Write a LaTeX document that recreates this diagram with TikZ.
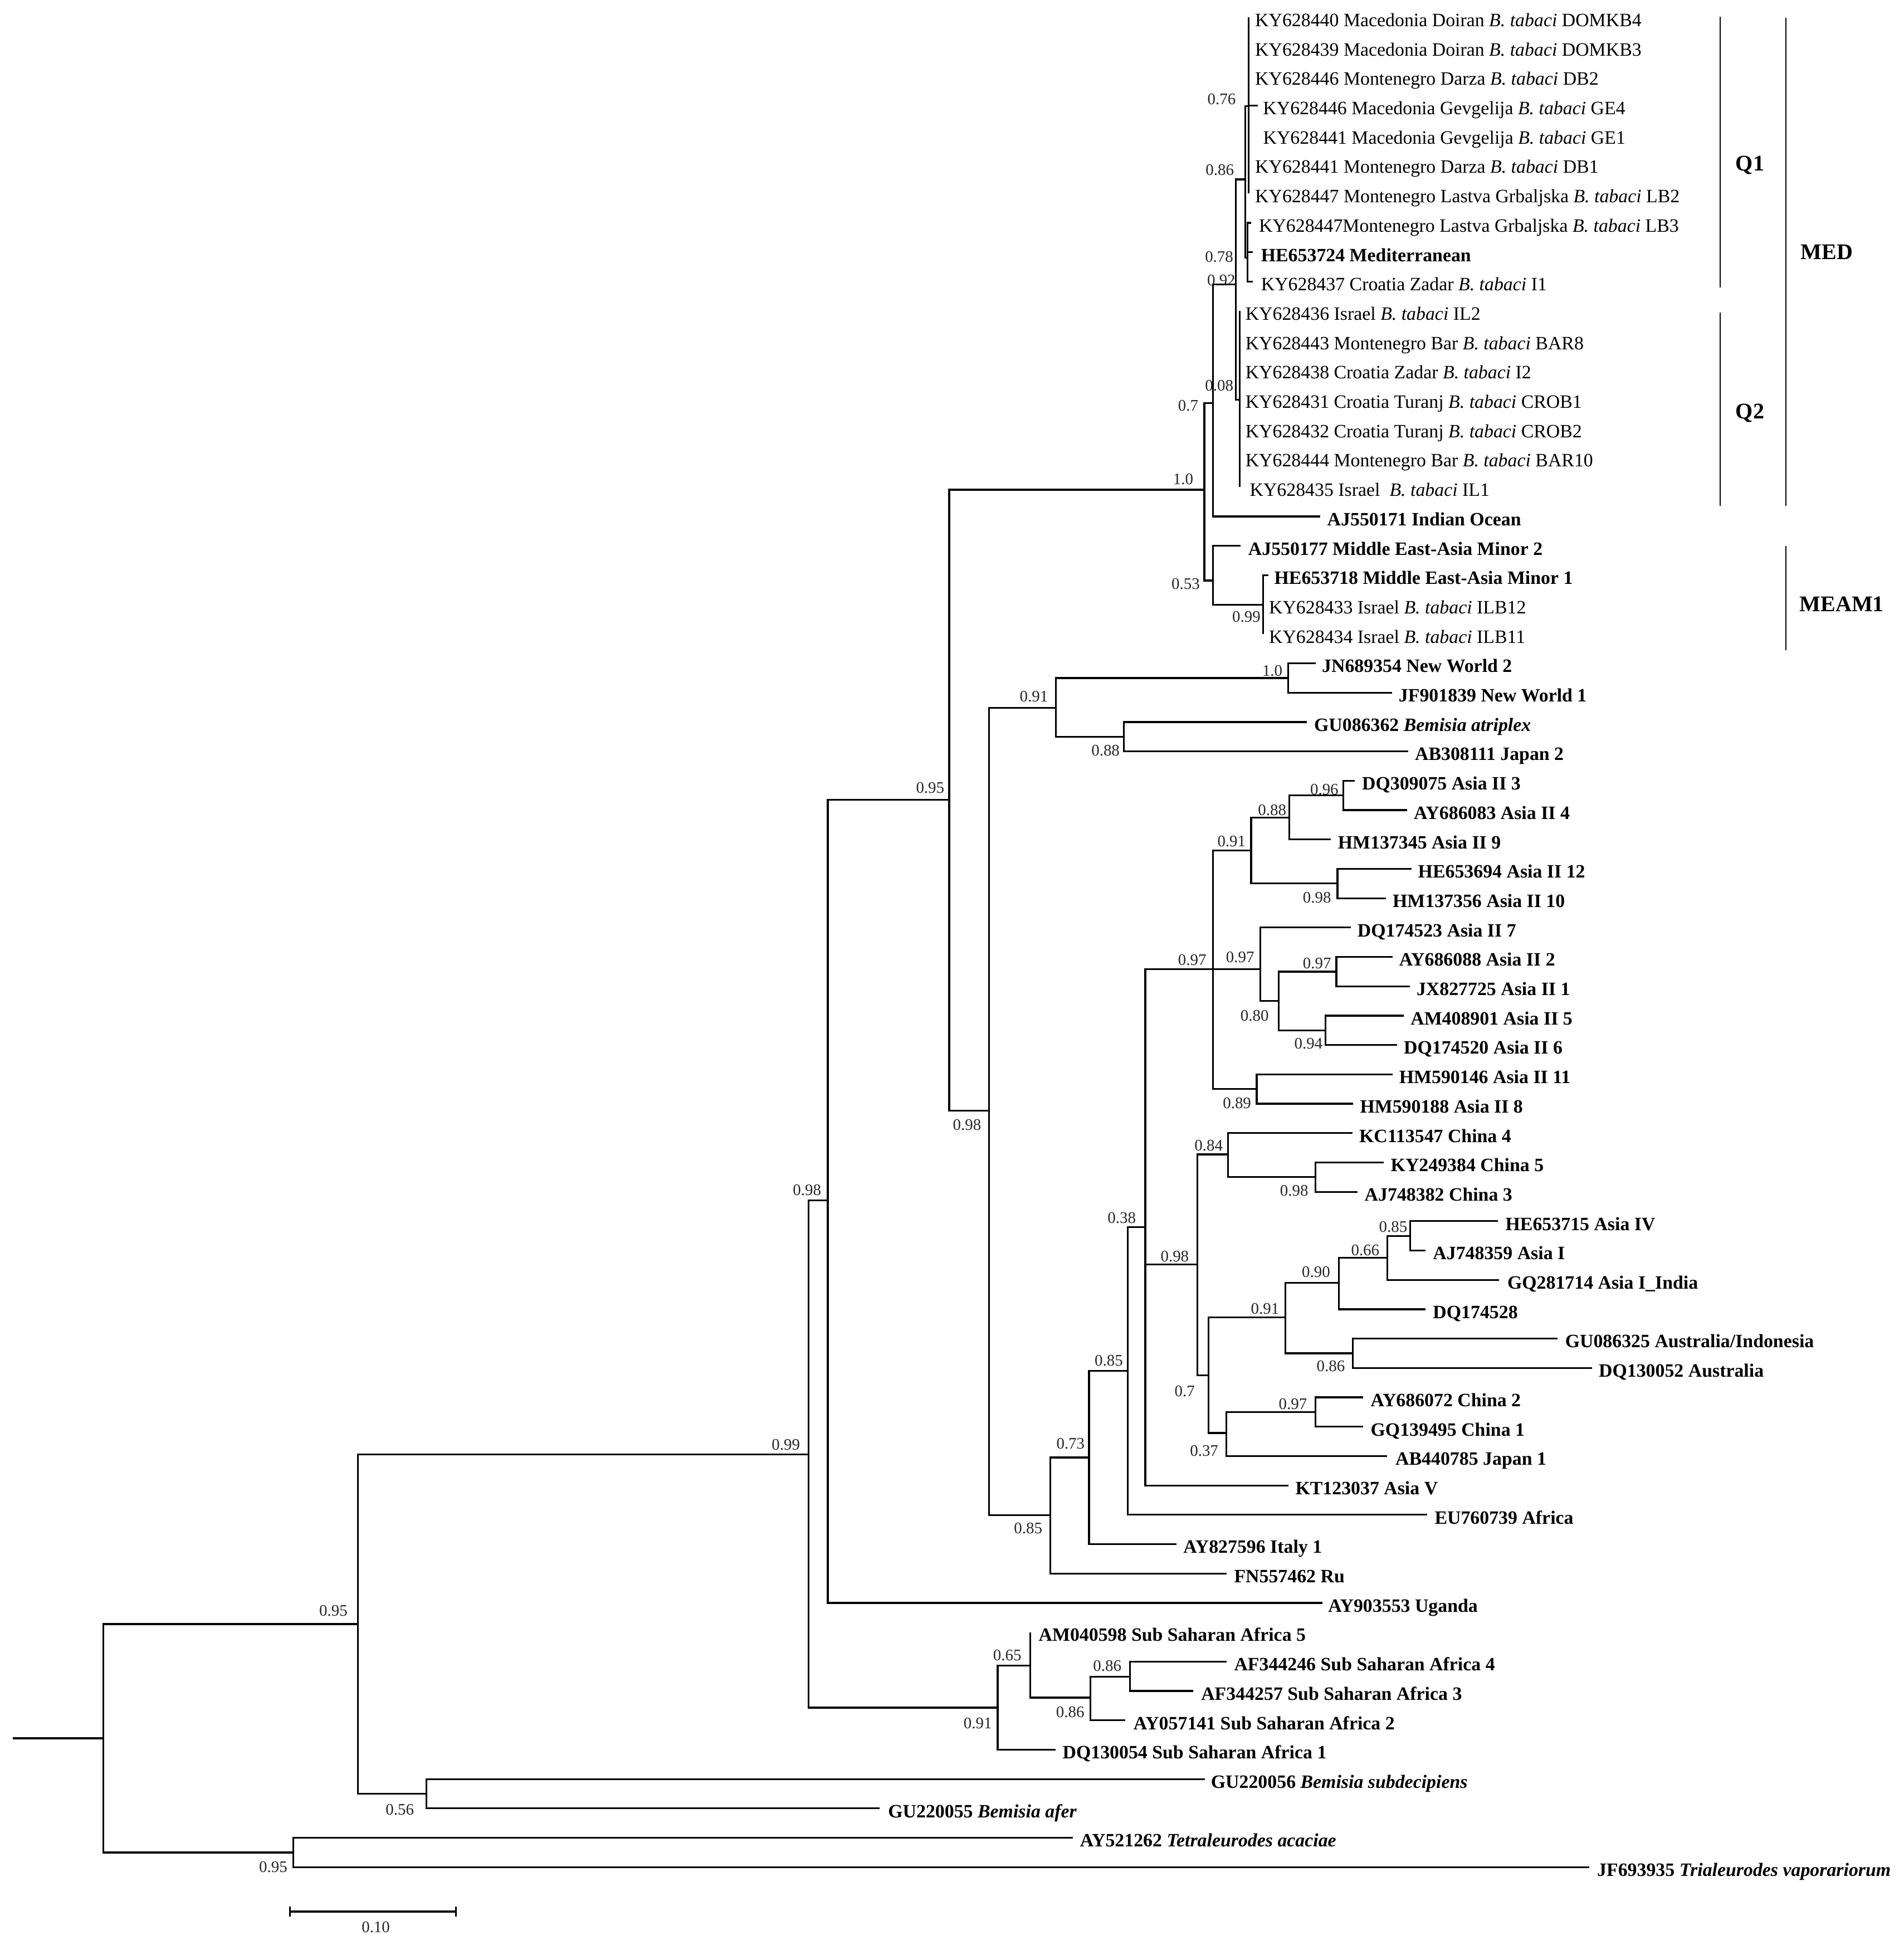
\documentclass[tikz,border=0pt]{standalone}
\usepackage{fontspec}
\setmainfont{Liberation Serif}
\begin{document}
\begin{tikzpicture}[x=1pt,y=-1pt,
  br/.style={line width=1.45pt, line join=miter},
  bk/.style={line width=1pt},
  tl/.style={anchor=base west, inner sep=0pt, font=\fontsize{15.2}{18}\selectfont},
  tlb/.style={tl, font=\fontsize{15.2}{18}\selectfont\bfseries},
  bl/.style={inner sep=0pt, font=\fontsize{13}{15}\selectfont, text=black!85},
  grp/.style={inner sep=0pt, font=\fontsize{18}{21}\selectfont\bfseries}]
\fill[white] (0,0) rectangle (1535,1568);
\useasboundingbox (0,0) rectangle (1535,1568);
% ---------- internal nodes ----------
\coordinate (rs) at (10.3,1401.3);
\coordinate (root) at (83.4,1401.3);
\coordinate (nOut) at (236.5,1493.4);
\coordinate (nA) at (288.7,1309.3);
\coordinate (nBem) at (343.7,1445.9);
\coordinate (nB) at (651.8,1172.4);
\coordinate (nSSA) at (804.4,1376.6);
\coordinate (nSSA2) at (830.8,1342.9);
\coordinate (nSSA3) at (879.2,1368.6);
\coordinate (nSSA4) at (911,1351.7);
\coordinate (nC) at (667.4,967.6);
\coordinate (nD) at (765.3,644.7);
\coordinate (nE) at (797.4,895.4);
\coordinate (nNW) at (851.5,570.8);
\coordinate (nNW2) at (1038.5,546.6);
\coordinate (nJ) at (906.3,594);
\coordinate (nF) at (846.7,1221.5);
\coordinate (nG) at (878.1,1175);
\coordinate (nH) at (909.3,1105.3);
\coordinate (nI) at (923.5,989.3);
\coordinate (nAII) at (978.1,781.3);
\coordinate (nK) at (1008.8,685.6);
\coordinate (nKa) at (1039.4,659);
\coordinate (nKb) at (1083.1,641.3);
\coordinate (nKc) at (1078.4,712.3);
\coordinate (nL) at (1016.1,781.3);
\coordinate (nLa) at (1030.9,806.9);
\coordinate (nLb) at (1077.5,783.3);
\coordinate (nLc) at (1068.8,830.6);
\coordinate (nM) at (1013.3,878);
\coordinate (nCh) at (965.3,1019.5);
\coordinate (nCha) at (990.3,930.6);
\coordinate (nChb) at (1060.5,949);
\coordinate (nChc) at (974.3,1108.7);
\coordinate (nAI) at (1036.4,1062);
\coordinate (nAIa) at (1079.4,1034);
\coordinate (nAIb) at (1118.5,1014);
\coordinate (nAIc) at (1136.9,996.3);
\coordinate (nAus) at (1090.8,1091);
\coordinate (nChd) at (988.9,1155.2);
\coordinate (nChe) at (1060.5,1138.3);
\coordinate (nMED0) at (971.1,394.8);
\coordinate (nMED) at (977.9,325);
\coordinate (nQ) at (996.6,229.4);
\coordinate (nQ1) at (1004,144.6);
\coordinate (nQ1a) at (1006.8,85.6);
\coordinate (nQ1b) at (1005.9,207.7);
\coordinate (nQ2) at (999.5,322.4);
\coordinate (nMEAM) at (977.9,468);
\coordinate (nMEAM1) at (1018.3,487.4);
% ---------- tips ----------
\coordinate (t1) at (1006.8,14);
\coordinate (t2) at (1006.8,37.67);
\coordinate (t3) at (1006.8,61.34);
\coordinate (t4) at (1014.2,85.01);
\coordinate (t5) at (1006.8,108.68);
\coordinate (t6) at (1006.8,132.35);
\coordinate (t7) at (1006.8,156.02);
\coordinate (t8) at (1008.9,179.69);
\coordinate (t9) at (1010,203.36);
\coordinate (t10) at (1010,227.03);
\coordinate (t11) at (999.5,250.7);
\coordinate (t12) at (999.5,274.37);
\coordinate (t13) at (999.5,298.04);
\coordinate (t14) at (999.5,321.71);
\coordinate (t15) at (999.5,345.38);
\coordinate (t16) at (999.5,369.05);
\coordinate (t17) at (999.5,392.72);
\coordinate (t18) at (1064.7,416.39);
\coordinate (t19) at (1000.3,440.06);
\coordinate (t20) at (1022.8,463.73);
\coordinate (t21) at (1018.3,487.4);
\coordinate (t22) at (1018.3,511.07);
\coordinate (t23) at (1060.7,534.74);
\coordinate (t24) at (1122.6,558.41);
\coordinate (t25) at (1053.9,582.08);
\coordinate (t26) at (1135.5,605.75);
\coordinate (t27) at (1092.5,629.42);
\coordinate (t28) at (1134.5,653.09);
\coordinate (t29) at (1073.1,676.76);
\coordinate (t30) at (1138,700.43);
\coordinate (t31) at (1117.5,724.1);
\coordinate (t32) at (1089.1,747.77);
\coordinate (t33) at (1122.8,771.44);
\coordinate (t34) at (1136.8,795.11);
\coordinate (t35) at (1132,818.78);
\coordinate (t36) at (1126.5,842.45);
\coordinate (t37) at (1122.8,866.12);
\coordinate (t38) at (1091.2,889.79);
\coordinate (t39) at (1090.6,913.46);
\coordinate (t40) at (1115.7,937.13);
\coordinate (t41) at (1094.6,960.8);
\coordinate (t42) at (1207.7,984.47);
\coordinate (t43) at (1149.2,1008.14);
\coordinate (t44) at (1208.7,1031.81);
\coordinate (t45) at (1149.2,1055.48);
\coordinate (t46) at (1255.8,1079.15);
\coordinate (t47) at (1283.5,1102.82);
\coordinate (t48) at (1099,1126.49);
\coordinate (t49) at (1099,1150.16);
\coordinate (t50) at (1118.5,1173.83);
\coordinate (t51) at (1038.9,1197.5);
\coordinate (t52) at (1150.6,1221.17);
\coordinate (t53) at (948.5,1244.84);
\coordinate (t54) at (988.9,1268.51);
\coordinate (t55) at (1066.2,1292.18);
\coordinate (t56) at (830.8,1315.85);
\coordinate (t57) at (988.9,1339.52);
\coordinate (t58) at (962.3,1363.19);
\coordinate (t59) at (907.3,1386.86);
\coordinate (t60) at (851,1410.53);
\coordinate (t61) at (971.7,1434.2);
\coordinate (t62) at (709.4,1457.87);
\coordinate (t63) at (865,1481.54);
\coordinate (t64) at (1281.2,1505.21);
% ---------- branches ----------
\draw[br] (rs) -- (root);
\draw[br] (root) |- (nA) (root) |- (nOut);
\draw[br] (nOut) |- (t63) (nOut) |- (t64);
\draw[br] (nA) |- (nB) (nA) |- (nBem);
\draw[br] (nBem) |- (t61) (nBem) |- (t62);
\draw[br] (nB) |- (nC) (nB) |- (nSSA);
\draw[br] (nSSA) |- (nSSA2) (nSSA) |- (t60);
\draw[br] (nSSA2) |- (t56) (nSSA2) |- (nSSA3);
\draw[br] (nSSA3) |- (nSSA4) (nSSA3) |- (t59);
\draw[br] (nSSA4) |- (t57) (nSSA4) |- (t58);
\draw[br] (nC) |- (nD) (nC) |- (t55);
\draw[br] (nD) |- (nMED0) (nD) |- (nE);
\draw[br] (nE) |- (nNW) (nE) |- (nF);
\draw[br] (nNW) |- (nNW2) (nNW) |- (nJ);
\draw[br] (nNW2) |- (t23) (nNW2) |- (t24);
\draw[br] (nJ) |- (t25) (nJ) |- (t26);
\draw[br] (nF) |- (nG) (nF) |- (t54);
\draw[br] (nG) |- (nH) (nG) |- (t53);
\draw[br] (nH) |- (nI) (nH) |- (t52);
\draw[br] (nI) |- (nAII) (nI) |- (nCh) (nI) |- (t51);
\draw[br] (nAII) |- (nK) (nAII) |- (nL) (nAII) |- (nM);
\draw[br] (nK) |- (nKa) (nK) |- (nKc);
\draw[br] (nKa) |- (nKb) (nKa) |- (t29);
\draw[br] (nKb) |- (t27) (nKb) |- (t28);
\draw[br] (nKc) |- (t30) (nKc) |- (t31);
\draw[br] (nL) |- (t32) (nL) |- (nLa);
\draw[br] (nLa) |- (nLb) (nLa) |- (nLc);
\draw[br] (nLb) |- (t33) (nLb) |- (t34);
\draw[br] (nLc) |- (t35) (nLc) |- (t36);
\draw[br] (nM) |- (t37) (nM) |- (t38);
\draw[br] (nCh) |- (nCha) (nCh) |- (nChc);
\draw[br] (nCha) |- (t39) (nCha) |- (nChb);
\draw[br] (nChb) |- (t40) (nChb) |- (t41);
\draw[br] (nChc) |- (nAI) (nChc) |- (nChd);
\draw[br] (nAI) |- (nAIa) (nAI) |- (nAus);
\draw[br] (nAIa) |- (nAIb) (nAIa) |- (t45);
\draw[br] (nAIb) |- (nAIc) (nAIb) |- (t44);
\draw[br] (nAIc) |- (t42) (nAIc) |- (t43);
\draw[br] (nAus) |- (t46) (nAus) |- (t47);
\draw[br] (nChd) |- (nChe) (nChd) |- (t50);
\draw[br] (nChe) |- (t48) (nChe) |- (t49);
\draw[br] (nMED0) |- (nMED) (nMED0) |- (nMEAM);
\draw[br] (nMED) |- (nQ) (nMED) |- (t18);
\draw[br] (nQ) |- (nQ1) (nQ) |- (nQ2);
\draw[br] (nQ1) |- (nQ1a) (nQ1) |- (nQ1b);
\draw[br] (nQ1a) |- (t1) (nQ1a) |- (t7) (nQ1a) |- (t4);
\draw[br] (nQ1b) |- (t8) (nQ1b) |- (t9) (nQ1b) |- (t10);
\draw[br] (nQ2) |- (t11) (nQ2) |- (t17);
\draw[br] (nMEAM) |- (t19) (nMEAM) |- (nMEAM1);
\draw[br] (nMEAM1) |- (t20) (nMEAM1) |- (t22);
% ---------- tip labels ----------
\node[tl] (L1) at ([xshift=5pt,yshift=-7.3pt]t1) {KY628440 Macedonia Doiran \textit{B. tabaci} DOMKB4};
\node[tl] (L2) at ([xshift=5pt,yshift=-7.3pt]t2) {KY628439 Macedonia Doiran \textit{B. tabaci} DOMKB3};
\node[tl] (L3) at ([xshift=5pt,yshift=-7.3pt]t3) {KY628446 Montenegro Darza \textit{B. tabaci} DB2};
\node[tl] (L4) at ([xshift=4pt,yshift=-7.3pt]t4) {KY628446 Macedonia Gevgelija \textit{B. tabaci} GE4};
\node[tl] (L5) at ([xshift=11.5pt,yshift=-7.3pt]t5) {KY628441 Macedonia Gevgelija \textit{B. tabaci} GE1};
\node[tl] (L6) at ([xshift=5pt,yshift=-7.3pt]t6) {KY628441 Montenegro Darza \textit{B. tabaci} DB1};
\node[tl] (L7) at ([xshift=5pt,yshift=-7.3pt]t7) {KY628447 Montenegro Lastva Grbaljska \textit{B. tabaci} LB2};
\node[tl] (L8) at ([xshift=6pt,yshift=-7.3pt]t8) {KY628447Montenegro Lastva Grbaljska \textit{B. tabaci} LB3};
\node[tlb] (L9) at ([xshift=6.6pt,yshift=-7.3pt]t9) {HE653724 Mediterranean};
\node[tl] (L10) at ([xshift=6.6pt,yshift=-7.3pt]t10) {KY628437 Croatia Zadar \textit{B. tabaci} I1};
\node[tl] (L11) at ([xshift=4.5pt,yshift=-7.3pt]t11) {KY628436 Israel \textit{B. tabaci} IL2};
\node[tl] (L12) at ([xshift=4.5pt,yshift=-7.3pt]t12) {KY628443 Montenegro Bar \textit{B. tabaci} BAR8};
\node[tl] (L13) at ([xshift=4.5pt,yshift=-7.3pt]t13) {KY628438 Croatia Zadar \textit{B. tabaci} I2};
\node[tl] (L14) at ([xshift=4.5pt,yshift=-7.3pt]t14) {KY628431 Croatia Turanj \textit{B. tabaci} CROB1};
\node[tl] (L15) at ([xshift=4.5pt,yshift=-7.3pt]t15) {KY628432 Croatia Turanj \textit{B. tabaci} CROB2};
\node[tl] (L16) at ([xshift=4.5pt,yshift=-7.3pt]t16) {KY628444 Montenegro Bar \textit{B. tabaci} BAR10};
\node[tl] (L17) at ([xshift=8pt,yshift=-7.3pt]t17) {KY628435 Israel\hspace{0.5em}\textit{B. tabaci} IL1};
\node[tlb] (L18) at ([xshift=5.3pt,yshift=-7.3pt]t18) {AJ550171 Indian Ocean};
\node[tlb] (L19) at ([xshift=6pt,yshift=-7.3pt]t19) {AJ550177 Middle East-Asia Minor 2};
\node[tlb] (L20) at ([xshift=4.5pt,yshift=-7.3pt]t20) {HE653718 Middle East-Asia Minor 1};
\node[tl] (L21) at ([xshift=4.7pt,yshift=-7.3pt]t21) {KY628433 Israel \textit{B. tabaci} ILB12};
\node[tl] (L22) at ([xshift=4.7pt,yshift=-7.3pt]t22) {KY628434 Israel \textit{B. tabaci} ILB11};
\node[tlb] (L23) at ([xshift=5pt,yshift=-7.3pt]t23) {JN689354 New World 2};
\node[tlb] (L24) at ([xshift=5pt,yshift=-7.3pt]t24) {JF901839 New World 1};
\node[tlb] (L25) at ([xshift=5.5pt,yshift=-7.3pt]t25) {GU086362 \textit{Bemisia atriplex}};
\node[tlb] (L26) at ([xshift=5.2pt,yshift=-7.3pt]t26) {AB308111 Japan 2};
\node[tlb] (L27) at ([xshift=5.5pt,yshift=-7.3pt]t27) {DQ309075 Asia II 3};
\node[tlb] (L28) at ([xshift=5.3pt,yshift=-7.3pt]t28) {AY686083 Asia II 4};
\node[tlb] (L29) at ([xshift=5.5pt,yshift=-7.3pt]t29) {HM137345 Asia II 9};
\node[tlb] (L30) at ([xshift=5.2pt,yshift=-7.3pt]t30) {HE653694 Asia II 12};
\node[tlb] (L31) at ([xshift=5.2pt,yshift=-7.3pt]t31) {HM137356 Asia II 10};
\node[tlb] (L32) at ([xshift=5.2pt,yshift=-7.3pt]t32) {DQ174523 Asia II 7};
\node[tlb] (L33) at ([xshift=5.2pt,yshift=-7.3pt]t33) {AY686088 Asia II 2};
\node[tlb] (L34) at ([xshift=5.2pt,yshift=-7.3pt]t34) {JX827725 Asia II 1};
\node[tlb] (L35) at ([xshift=5.2pt,yshift=-7.3pt]t35) {AM408901 Asia II 5};
\node[tlb] (L36) at ([xshift=5.2pt,yshift=-7.3pt]t36) {DQ174520 Asia II 6};
\node[tlb] (L37) at ([xshift=5.2pt,yshift=-7.3pt]t37) {HM590146 Asia II 11};
\node[tlb] (L38) at ([xshift=5.2pt,yshift=-7.3pt]t38) {HM590188 Asia II 8};
\node[tlb] (L39) at ([xshift=5.2pt,yshift=-7.3pt]t39) {KC113547 China 4};
\node[tlb] (L40) at ([xshift=5.5pt,yshift=-7.3pt]t40) {KY249384 China 5};
\node[tlb] (L41) at ([xshift=5.5pt,yshift=-7.3pt]t41) {AJ748382 China 3};
\node[tlb] (L42) at ([xshift=6pt,yshift=-7.3pt]t42) {HE653715 Asia IV};
\node[tlb] (L43) at ([xshift=6pt,yshift=-7.3pt]t43) {AJ748359 Asia I};
\node[tlb] (L44) at ([xshift=6.5pt,yshift=-7.3pt]t44) {GQ281714 Asia I\_India};
\node[tlb] (L45) at ([xshift=6pt,yshift=-7.3pt]t45) {DQ174528};
\node[tlb] (L46) at ([xshift=6pt,yshift=-7.3pt]t46) {GU086325 Australia/Indonesia};
\node[tlb] (L47) at ([xshift=5.4pt,yshift=-7.3pt]t47) {DQ130052 Australia};
\node[tlb] (L48) at ([xshift=6pt,yshift=-7.3pt]t48) {AY686072 China 2};
\node[tlb] (L49) at ([xshift=6pt,yshift=-7.3pt]t49) {GQ139495 China 1};
\node[tlb] (L50) at ([xshift=6.5pt,yshift=-7.3pt]t50) {AB440785 Japan 1};
\node[tlb] (L51) at ([xshift=5.4pt,yshift=-7.3pt]t51) {KT123037 Asia V};
\node[tlb] (L52) at ([xshift=6pt,yshift=-7.3pt]t52) {EU760739 Africa};
\node[tlb] (L53) at ([xshift=5.5pt,yshift=-7.3pt]t53) {AY827596 Italy 1};
\node[tlb] (L54) at ([xshift=6pt,yshift=-7.3pt]t54) {FN557462 Ru};
\node[tlb] (L55) at ([xshift=4.5pt,yshift=-7.3pt]t55) {AY903553 Uganda};
\node[tlb] (L56) at ([xshift=6.5pt,yshift=-7.3pt]t56) {AM040598 Sub Saharan Africa 5};
\node[tlb] (L57) at ([xshift=6pt,yshift=-7.3pt]t57) {AF344246 Sub Saharan Africa 4};
\node[tlb] (L58) at ([xshift=6pt,yshift=-7.3pt]t58) {AF344257 Sub Saharan Africa 3};
\node[tlb] (L59) at ([xshift=6.5pt,yshift=-7.3pt]t59) {AY057141 Sub Saharan Africa 2};
\node[tlb] (L60) at ([xshift=5.6pt,yshift=-7.3pt]t60) {DQ130054 Sub Saharan Africa 1};
\node[tlb] (L61) at ([xshift=4.5pt,yshift=-7.3pt]t61) {GU220056 \textit{Bemisia subdecipiens}};
\node[tlb] (L62) at ([xshift=6.5pt,yshift=-7.3pt]t62) {GU220055 \textit{Bemisia afer}};
\node[tlb] (L63) at ([xshift=5.6pt,yshift=-7.3pt]t63) {AY521262 \textit{Tetraleurodes acaciae}};
\node[tlb] (L64) at ([xshift=6.4pt,yshift=-7.3pt]t64) {JF693935 \textit{Trialeurodes vaporariorum}};
% ---------- support values ----------
\node[bl] (b1) at (985,79.8) {0.76};
\node[bl] (b2) at (983.5,137.1) {0.86};
\node[bl] (b3) at (983,206.9) {0.78};
\node[bl] (b4) at (984.7,226) {0.92};
\node[bl] (b5) at (983.1,310.8) {0.08};
\node[bl] (b6) at (958,327) {0.7};
\node[bl] (b7) at (954,386.5) {1.0};
\node[bl] (b8) at (956,470.9) {0.53};
\node[bl] (b9) at (1005,497.4) {0.99};
\node[bl] (b10) at (1025.9,540.6) {1.0};
\node[bl] (b11) at (833.6,561.5) {0.91};
\node[bl] (b12) at (891.4,605) {0.88};
\node[bl] (b13) at (750,635) {0.95};
\node[bl] (b14) at (1067.8,636.4) {0.96};
\node[bl] (b15) at (1025.7,653) {0.88};
\node[bl] (b16) at (993,678.3) {0.91};
\node[bl] (b17) at (1061.9,723.5) {0.98};
\node[bl] (b18) at (961.3,774) {0.97};
\node[bl] (b19) at (999.9,771.8) {0.97};
\node[bl] (b20) at (1061.9,776.7) {0.97};
\node[bl] (b21) at (1011.6,818.9) {0.80};
\node[bl] (b22) at (1055,841.4) {0.94};
\node[bl] (b23) at (997.4,889.5) {0.89};
\node[bl] (b24) at (779.7,906.8) {0.98};
\node[bl] (b25) at (974.5,923.5) {0.84};
\node[bl] (b26) at (1043.5,959.7) {0.98};
\node[bl] (b27) at (650.7,959.4) {0.98};
\node[bl] (b28) at (904.5,981.7) {0.38};
\node[bl] (b29) at (1123.3,989) {0.85};
\node[bl] (b30) at (1100.8,1008) {0.66};
\node[bl] (b31) at (947.2,1012.8) {0.98};
\node[bl] (b32) at (1061.1,1025.3) {0.90};
\node[bl] (b33) at (1020,1054.9) {0.91};
\node[bl] (b34) at (894,1096.8) {0.85};
\node[bl] (b35) at (1073,1101.5) {0.86};
\node[bl] (b36) at (955.2,1121.5) {0.7};
\node[bl] (b37) at (1042.5,1132.1) {0.97};
\node[bl] (b38) at (863.2,1163.6) {0.73};
\node[bl] (b39) at (633.6,1164.6) {0.99};
\node[bl] (b40) at (970.9,1169.6) {0.37};
\node[bl] (b41) at (829,1232.2) {0.85};
\node[bl] (b42) at (268.8,1298.4) {0.95};
\node[bl] (b43) at (812.2,1334.5) {0.65};
\node[bl] (b44) at (892.8,1342.9) {0.86};
\node[bl] (b45) at (862.9,1380.3) {0.86};
\node[bl] (b46) at (788.4,1389.1) {0.91};
\node[bl] (b47) at (322.4,1458.7) {0.56};
\node[bl] (b48) at (220.3,1505.3) {0.95};
% ---------- group brackets ----------
\coordinate (q1a) at (1387,13.6);
\coordinate (q1b) at (1387,231.8);
\coordinate (q2a) at (1387,252);
\coordinate (q2b) at (1387,408);
\coordinate (meda) at (1440,14.4);
\coordinate (medb) at (1440,408);
\coordinate (mea) at (1440,440);
\coordinate (meb) at (1440,524);
\draw[bk] (q1a) -- (q1b);
\draw[bk] (q2a) -- (q2b);
\draw[bk] (meda) -- (medb);
\draw[bk] (mea) -- (meb);
\node[grp] (gQ1) at (1411,133) {Q1};
\node[grp] (gQ2) at (1411,333) {Q2};
\node[grp] (gMED) at (1473,203) {MED};
\node[grp] (gMEAM) at (1485,487) {MEAM1};
% ---------- scale bar ----------
\coordinate (s1) at (233.7,1541);
\coordinate (s2) at (367.8,1541);
\draw[br] (s1) -- (s2);
\draw[br] ([yshift=4pt]s1) -- ([yshift=-4pt]s1);
\draw[br] ([yshift=4pt]s2) -- ([yshift=-4pt]s2);
\node[bl] (sl) at (303,1553.7) {0.10};
\end{tikzpicture}
\end{document}
